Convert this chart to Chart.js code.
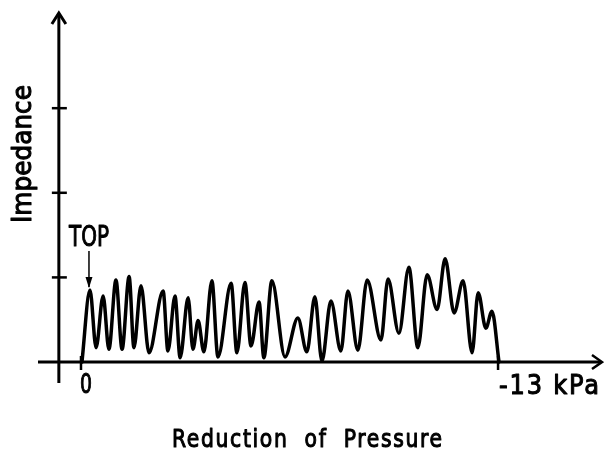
<!DOCTYPE html>
<html lang="en">
<head>
    <meta charset="UTF-8">
    <title>Impedance vs Reduction of Pressure</title>
    <style>
        body {
            margin: 0;
            background: #fff;
        }

        #chartContainer {
            width: 604px;
            height: 457px;
        }
    </style>
</head>
<body>

    <div id="chartContainer">
        <canvas id="impChart"></canvas>
    </div>

    <script src="https://cdn.jsdelivr.net/npm/chart.js"></script>

    <script>
        // pressure reduction (kPa) and impedance (arbitrary units, 1 = one tick)
        const pressure = [
            0.03, 0.28, 0.47, 0.69, 0.87, 1.09, 1.28, 1.50, 1.65, 1.87,
            2.12, 2.56, 2.71, 2.93, 3.09, 3.34, 3.49, 3.65, 3.83, 4.08,
            4.27, 4.68, 4.86, 5.11, 5.30, 5.55, 5.70, 5.95, 6.36, 6.76,
            7.04, 7.29, 7.51, 7.79, 8.10, 8.32, 8.63, 8.92, 9.35, 9.57,
            9.91, 10.22, 10.50, 10.79, 11.10, 11.35, 11.63, 11.91, 12.19, 12.38,
            12.62, 12.81, 13.03
        ];
        const impedance = [
            0.00, 0.85, 0.17, 0.78, 0.15, 0.97, 0.15, 1.01, 0.17, 0.90,
            0.11, 0.84, 0.13, 0.78, 0.05, 0.76, 0.15, 0.49, 0.12, 0.96,
            0.06, 0.93, 0.11, 0.94, 0.19, 0.71, 0.05, 0.96, 0.06, 0.52,
            0.12, 0.77, 0.01, 0.72, 0.13, 0.84, 0.14, 0.97, 0.26, 0.98,
            0.34, 1.12, 0.17, 1.03, 0.62, 1.22, 0.58, 0.96, 0.11, 0.82,
            0.40, 0.60, 0.00
        ];
        const yTicks = [1, 2, 3];
        const xTicks = [0, 13];
        const xTickLabels = ['0', '-13 kPa'];

        const FONT = '27px "DejaVu Sans"';

        // draw text squeezed to a given width (the original lettering is narrow)
        function fitText(ctx, text, cx, baseY, width, font, spacing) {
            ctx.save();
            ctx.font = font;
            ctx.letterSpacing = (spacing || 0) + 'px';
            const w = ctx.measureText(text).width - (spacing || 0);
            ctx.translate(cx, baseY);
            ctx.scale(width / w, 1);
            ctx.textAlign = 'left';
            ctx.textBaseline = 'alphabetic';
            ctx.lineWidth = 1.1;
            ctx.lineJoin = 'round';
            ctx.fillText(text, -w / 2, 0);
            ctx.strokeText(text, -w / 2, 0);
            ctx.restore();
        }

        const axesPlugin = {
            id: 'axesPlugin',
            afterDatasetsDraw(chart) {
                const ctx = chart.ctx;
                const xs = chart.scales.x;
                const ys = chart.scales.y;
                const area = chart.chartArea;
                const y0 = ys.getPixelForValue(0);
                const x0 = xs.getPixelForValue(-0.69);

                ctx.save();
                ctx.strokeStyle = '#000';
                ctx.fillStyle = '#000';
                ctx.lineWidth = 3;

                // x axis with arrow
                ctx.beginPath();
                ctx.moveTo(area.left, y0);
                ctx.lineTo(area.right - 2, y0);
                ctx.stroke();
                ctx.lineWidth = 2.5;
                ctx.beginPath();
                ctx.moveTo(area.right - 10, y0 - 7);
                ctx.lineTo(area.right, y0);
                ctx.lineTo(area.right - 10, y0 + 7);
                ctx.stroke();

                // y axis with arrow
                ctx.lineWidth = 3;
                ctx.beginPath();
                ctx.moveTo(x0, area.bottom);
                ctx.lineTo(x0, area.top + 2);
                ctx.stroke();
                ctx.beginPath();
                ctx.moveTo(x0 - 7, area.top + 11);
                ctx.lineTo(x0, area.top);
                ctx.lineTo(x0 + 7, area.top + 11);
                ctx.stroke();

                // y tick crosses
                ctx.lineWidth = 2.5;
                yTicks.forEach(v => {
                    const py = ys.getPixelForValue(v);
                    ctx.beginPath();
                    ctx.moveTo(x0 - 7, py);
                    ctx.lineTo(x0 + 8, py);
                    ctx.stroke();
                });

                // x ticks
                xTicks.forEach(v => {
                    const px = xs.getPixelForValue(v);
                    ctx.beginPath();
                    ctx.moveTo(px, y0 - 6);
                    ctx.lineTo(px, y0 + 8);
                    ctx.stroke();
                });

                // tick labels
                const px0 = xs.getPixelForValue(xTicks[0]);
                fitText(ctx, xTickLabels[0], px0 + 5, 393, 12, FONT);
                const px1 = xs.getPixelForValue(xTicks[1]);
                fitText(ctx, xTickLabels[1], px1 + 51, 394, 100, FONT, 2);

                // axis titles
                ctx.save();
                ctx.translate(31, 154);
                ctx.rotate(-Math.PI / 2);
                fitText(ctx, 'Impedance', 0, 0, 138, FONT);
                ctx.restore();
                fitText(ctx, 'Reduction  of  Pressure', 307, 447, 270, '25px "DejaVu Sans"', 2);

                // TOP marker above first peak
                const tx = xs.getPixelForValue(pressure[1]) - 1;
                const ty = ys.getPixelForValue(impedance[1]);
                fitText(ctx, 'TOP', tx, ty - 44, 40, '28px "DejaVu Sans"');
                ctx.lineWidth = 1.5;
                ctx.beginPath();
                ctx.moveTo(tx, ty - 39);
                ctx.lineTo(tx, ty - 3);
                ctx.stroke();
                ctx.beginPath();
                ctx.moveTo(tx - 3.5, ty - 13);
                ctx.lineTo(tx, ty - 2);
                ctx.lineTo(tx + 3.5, ty - 13);
                ctx.closePath();
                ctx.fill();

                ctx.restore();
            }
        };

        const ctx = document.getElementById('impChart').getContext('2d');
        const impChart = new Chart(ctx, {
            type: 'line',
            data: {
                datasets: [{
                    data: pressure.map((p, i) => ({ x: p, y: impedance[i] })),
                    borderColor: '#000',
                    borderWidth: 3.5,
                    borderJoinStyle: 'round',
                    borderCapStyle: 'round',
                    pointRadius: 0,
                    cubicInterpolationMode: 'monotone',
                    fill: false,
                    clip: false
                }]
            },
            options: {
                responsive: true,
                maintainAspectRatio: false,
                animation: false,
                events: [],
                layout: {
                    padding: { left: 38, right: 2, top: 13, bottom: 74 }
                },
                plugins: {
                    legend: { display: false },
                    tooltip: { enabled: false }
                },
                scales: {
                    x: { type: 'linear', display: false, min: -1.34, max: 16.24 },
                    y: { type: 'linear', display: false, min: -0.248, max: 4.125 }
                }
            },
            plugins: [axesPlugin]
        });
    </script>
</body>
</html>
